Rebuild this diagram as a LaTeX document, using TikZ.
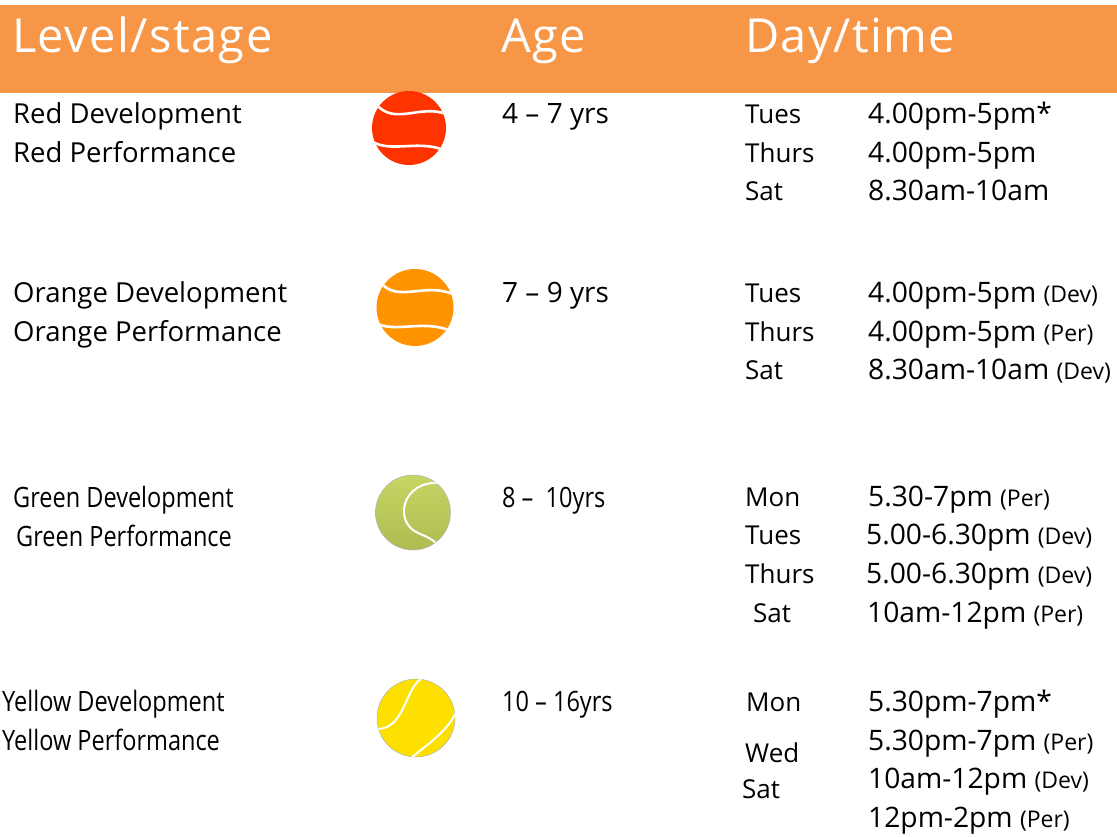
\documentclass[tikz,border=0pt]{standalone}
\usepackage{fontspec}
\setmainfont{Open Sans}
\newfontfamily\hdrfont[LetterSpace=3]{Open Sans}
\newfontfamily\condfont[FakeStretch=0.84]{Open Sans}
\definecolor{band}{HTML}{F79646}
\definecolor{redball}{HTML}{FF3300}
\definecolor{orangeball}{HTML}{FF9400}
\definecolor{greentop}{HTML}{C6D565}
\definecolor{greenbot}{HTML}{B0BB50}
\definecolor{yellowball}{HTML}{FDE000}
\newcommand\smp[1]{{\fontsize{23}{26}\selectfont #1}}
\tikzset{
  hdr/.style={anchor=base west, inner sep=0pt, text=white, font=\hdrfont\fontsize{47}{54}\selectfont},
  txt/.style={anchor=base west, inner sep=0pt, font=\fontsize{27.5}{30}\selectfont},
  agetxt/.style={anchor=base west, inner sep=0pt, font=\fontsize{28}{30}\selectfont},
  daytxt/.style={anchor=base west, inner sep=0pt, font=\fontsize{26}{30}\selectfont},
  timetxt/.style={anchor=base west, inner sep=0pt, font=\fontsize{28.2}{30}\selectfont},
  ctxt/.style={anchor=base west, inner sep=0pt, font=\condfont\fontsize{28}{30}\selectfont},
  seam/.style={white, line width=2.6pt, line cap=round},
  rim/.style={draw=gray!60, line width=0.5pt}
}
\begin{document}
\begin{tikzpicture}[x=1pt,y=-1pt]
\useasboundingbox (0,0) rectangle (1117,836);
\fill[white] (0,0) rectangle (1117,836);
% header
\fill[band] (0,5) rectangle (1117,93);
\node[hdr] (hlevel) at (12,52) {Level/stage};
\node[hdr] (hage) at (501,52) {Age};
\node[hdr] (hday) at (745,52) {Day/time};

% ball centres
\coordinate (rb) at (409,128);
\coordinate (ob) at (415,307.5);
\coordinate (gb) at (413,512.5);
\coordinate (yb) at (416,718);

% red ball
\fill[redball] (rb) circle (37);
\begin{scope}
\clip (rb) circle (37);
\draw[seam] (376,104) .. controls (394,126) and (420,104) .. (446,114);
\draw[seam] (373,142) .. controls (392,153) and (420,139) .. (446,151);
\end{scope}

% orange ball
\fill[orangeball] (ob) circle (38.5);
\begin{scope}
\clip (ob) circle (38.5);
\draw[seam] (380,282) .. controls (398,304) and (425,281) .. (455,295);
\draw[seam] (374,322) .. controls (395,335) and (425,317) .. (455,333);
\end{scope}

% green ball
\shade[top color=greentop, bottom color=greenbot] (gb) circle (37.5);
\draw[rim] (gb) circle (37.5);
\begin{scope}
\clip (gb) circle (37.5);
\draw[seam, line width=2pt] (440,483) .. controls (402,480) and (393,522) .. (418,533) .. controls (430,538) and (436,541) .. (440,549);
\end{scope}

% yellow ball
\fill[yellowball] (yb) circle (39);
\draw[rim] (yb) circle (39);
\begin{scope}
\clip (yb) circle (39);
\draw[seam, line width=2pt] (424,677) .. controls (404,686) and (406,731) .. (375,729);
\draw[seam, line width=2pt] (457,711) .. controls (445,735) and (425,745) .. (408,761);
\end{scope}

% Red row
\node[txt] (rdev) at (13,123) {Red Development};
\node[txt] (rper) at (13,162) {Red Performance};
\node[agetxt] (rage) at (502,123) {4 – 7 yrs};
\node[daytxt] (rd1) at (745,123) {Tues};
\node[daytxt] (rd2) at (745,162) {Thurs};
\node[daytxt] (rd3) at (745,200) {Sat};
\node[timetxt] (rt1) at (868,123) {4.00pm-5pm*};
\node[timetxt] (rt2) at (868,162) {4.00pm-5pm};
\node[timetxt] (rt3) at (868,200) {8.30am-10am};

% Orange row
\node[txt] (odev) at (13,302) {Orange Development};
\node[txt] (oper) at (13,341) {Orange Performance};
\node[agetxt] (oage) at (502,302) {7 – 9 yrs};
\node[daytxt] (od1) at (745,302) {Tues};
\node[daytxt] (od2) at (745,341) {Thurs};
\node[daytxt] (od3) at (745,379) {Sat};
\node[timetxt] (ot1) at (868,302) {4.00pm-5pm \smp{(Dev)}};
\node[timetxt] (ot2) at (868,341) {4.00pm-5pm \smp{(Per)}};
\node[timetxt] (ot3) at (868,379) {8.30am-10am \smp{(Dev)}};

% Green row
\node[ctxt] (gdev) at (13,507) {Green Development};
\node[ctxt] (gper) at (16,546) {Green Performance};
\node[ctxt] (gage) at (502,507) {8 –\ \ 10yrs};
\node[daytxt] (gd1) at (745,506) {Mon};
\node[daytxt] (gd2) at (745,544) {Tues};
\node[daytxt] (gd3) at (745,583) {Thurs};
\node[daytxt] (gd4) at (753,622) {Sat};
\node[timetxt] (gt1) at (868,506) {5.30-7pm \smp{(Per)}};
\node[timetxt] (gt2) at (866,544) {5.00-6.30pm \smp{(Dev)}};
\node[timetxt] (gt3) at (866,583) {5.00-6.30pm \smp{(Dev)}};
\node[timetxt] (gt4) at (867,622) {10am-12pm \smp{(Per)}};

% Yellow row
\node[ctxt] (ydev) at (2,711) {Yellow Development};
\node[ctxt] (yper) at (2,750) {Yellow Performance};
\node[ctxt] (yage) at (502,711) {10 – 16yrs};
\node[daytxt] (yd1) at (746,711) {Mon};
\node[daytxt] (yd2) at (745,762) {Wed};
\node[daytxt] (yd3) at (742,798) {Sat};
\node[timetxt] (yt1) at (868,711) {5.30pm-7pm*};
\node[timetxt] (yt2) at (868,750) {5.30pm-7pm \smp{(Per)}};
\node[timetxt] (yt3) at (868,788) {10am-12pm \smp{(Dev)}};
\node[timetxt] (yt4) at (868,827) {12pm-2pm \smp{(Per)}};
\end{tikzpicture}
\end{document}
